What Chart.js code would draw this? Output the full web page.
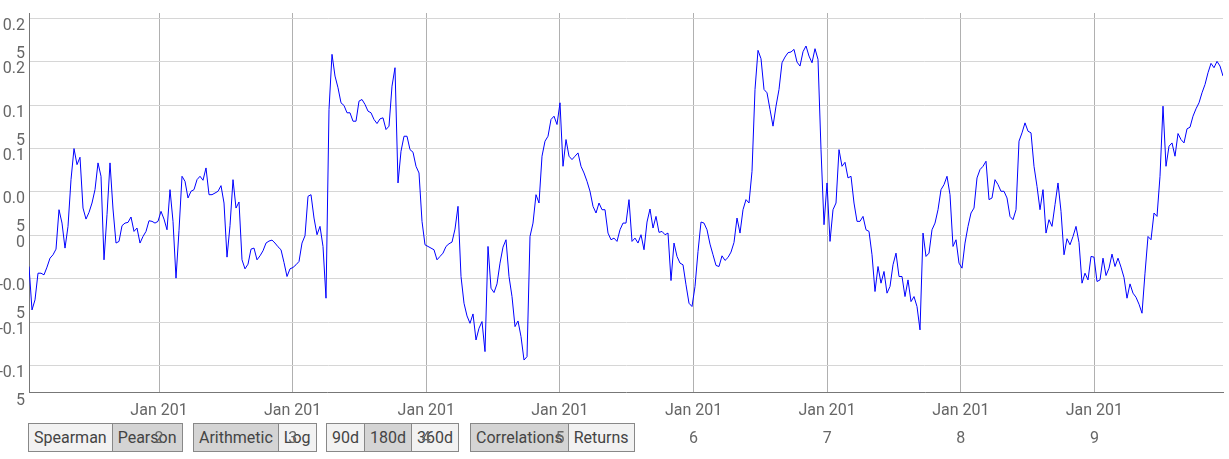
<!DOCTYPE html>
<html>
<head>
<meta charset="utf-8">
<script src="https://cdn.jsdelivr.net/npm/chart.js@4"></script>
<style>
  body { margin: 0; background: #fff; font-family: Roboto, sans-serif; }
  #wrap { position: relative; width: 1229px; height: 459px; overflow: hidden; }
  #chart { position: absolute; left: 0; top: 0; z-index: 2; pointer-events: none; }
  .grp { position: absolute; top: 423px; display: flex; border: 1px solid #888; height: 27px; }
  .grp span { display: block; padding: 0 5px; line-height: 27px; font-size: 16px; color: #444; background: #f2f2f2; }
  .grp span + span { border-left: 1px solid #888; }
  .grp span.on { background: #d4d4d4; }
</style>
</head>
<body>
<div id="wrap">
  <div class="grp" style="left:28px"><span>Spearman</span><span class="on">Pearson</span></div>
  <div class="grp" style="left:193px"><span class="on">Arithmetic</span><span>Log</span></div>
  <div class="grp" style="left:326px"><span>90d</span><span class="on">180d</span><span>360d</span></div>
  <div class="grp" style="left:470px"><span class="on">Correlations</span><span>Returns</span></div>
  <canvas id="chart" width="1229" height="459"></canvas>
</div>
<script>
// x axis: one sample roughly every 8.2 days, first one ~10 Jan 2011
const firstSample = 2011.027;
const sampleStep = 8.2 / 365.25;

const xTickYears = [2012, 2013, 2014, 2015, 2016, 2017, 2018, 2019];
const xTickLabels = ["Jan 2012", "Jan 2013", "Jan 2014", "Jan 2015", "Jan 2016", "Jan 2017", "Jan 2018", "Jan 2019"];

const yTickValues = [-0.15, -0.1, -0.05, 0, 0.05, 0.1, 0.15, 0.2, 0.25];
const yTickLabels = ["-0.15", "-0.1", "-0.05", "0", "0.05", "0.1", "0.15", "0.2", "0.25"];

// rolling 180d Pearson correlation
const pearson180d = [
  -0.0358, -0.0858, -0.0742, -0.0435, -0.0435, -0.0454, -0.0365, -0.0262, -0.0223, -0.0158,
  0.0296, 0.0142, -0.0146, 0.0104, 0.0642, 0.1000, 0.0815, 0.0900, 0.0315, 0.0188,
  0.0265, 0.0373, 0.0527, 0.0835, 0.0681, -0.0281, 0.0238, 0.0835, 0.0304, -0.0088,
  -0.0069, 0.0112, 0.0142, 0.0150, 0.0212, 0.0046, 0.0085, -0.0088, -0.0012, 0.0046,
  0.0169, 0.0162, 0.0142, 0.0162, 0.0277, 0.0188, 0.0065, 0.0527, 0.0162, -0.0492,
  0.0058, 0.0681, 0.0623, 0.0431, 0.0508, 0.0527, 0.0642, 0.0681, 0.0635, 0.0777,
  0.0469, 0.0469, 0.0488, 0.0508, 0.0573, 0.0373, -0.0250, 0.0112, 0.0642, 0.0315,
  0.0385, -0.0281, -0.0385, -0.0331, -0.0158, -0.0146, -0.0281, -0.0235, -0.0177, -0.0088,
  -0.0065, -0.0054, -0.0088, -0.0131, -0.0165, -0.0312, -0.0473, -0.0385, -0.0369, -0.0338,
  -0.0300, -0.0088, -0.0004, 0.0450, 0.0469, 0.0200, 0.0008, 0.0104, -0.0127, -0.0723,
  0.1450, 0.2085, 0.1835, 0.1700, 0.1527, 0.1496, 0.1412, 0.1412, 0.1315, 0.1315,
  0.1546, 0.1565, 0.1508, 0.1431, 0.1412, 0.1335, 0.1288, 0.1342, 0.1354, 0.1219,
  0.1258, 0.1719, 0.1931, 0.0604, 0.0969, 0.1142, 0.1142, 0.0988, 0.0958, 0.0796,
  0.0719, 0.0162, -0.0108, -0.0127, -0.0146, -0.0165, -0.0281, -0.0242, -0.0204, -0.0127,
  -0.0096, -0.0077, 0.0073, 0.0335, -0.0473, -0.0781, -0.0927, -0.1012, -0.0904, -0.1204,
  -0.1069, -0.0992, -0.1338, -0.0127, -0.0608, -0.0658, -0.0558, -0.0319, -0.0135, -0.0050,
  -0.0473, -0.0704, -0.1050, -0.0985, -0.1165, -0.1435, -0.1396, -0.0012, 0.0142, 0.0469,
  0.0373, 0.0912, 0.1085, 0.1142, 0.1335, 0.1373, 0.1277, 0.1527, 0.0796, 0.1104,
  0.0912, 0.0873, 0.0912, 0.0950, 0.0796, 0.0719, 0.0623, 0.0508, 0.0335, 0.0258,
  0.0373, 0.0296, 0.0296, 0.0027, -0.0050, -0.0031, -0.0069, 0.0065, 0.0142, 0.0142,
  0.0412, -0.0069, -0.0031, -0.0088, 0.0008, -0.0165, 0.0154, 0.0304, 0.0085, 0.0219,
  0.0035, 0.0046, 0.0008, 0.0027, -0.0520, -0.0088, -0.0242, -0.0319, -0.0338, -0.0569,
  -0.0781, -0.0819, -0.0588, -0.0185, 0.0154, 0.0142, 0.0065, -0.0100, -0.0223, -0.0346,
  -0.0358, -0.0235, -0.0288, -0.0254, -0.0192, -0.0081, 0.0200, 0.0027, 0.0296, 0.0412,
  0.0373, 0.0738, 0.1681, 0.2131, 0.2035, 0.1681, 0.1642, 0.1450, 0.1258, 0.1488,
  0.1681, 0.1988, 0.2054, 0.2104, 0.2112, 0.2142, 0.1996, 0.1950, 0.2115, 0.2181,
  0.2065, 0.1988, 0.2150, 0.2027, 0.0988, 0.0123, 0.0604, -0.0069, 0.0296, 0.0373,
  0.0988, 0.0796, 0.0842, 0.0662, 0.0681, 0.0373, 0.0162, 0.0162, 0.0219, 0.0065,
  0.0046, -0.0223, -0.0646, -0.0358, -0.0550, -0.0415, -0.0665, -0.0588, -0.0338, -0.0204,
  -0.0473, -0.0473, -0.0704, -0.0512, -0.0762, -0.0704, -0.0819, -0.1088, 0.0027, -0.0242,
  -0.0204, 0.0065, 0.0142, 0.0296, 0.0527, 0.0585, 0.0681, 0.0469, -0.0127, -0.0050,
  -0.0319, -0.0377, -0.0088, 0.0104, 0.0258, 0.0315, 0.0662, 0.0758, 0.0796, 0.0854,
  0.0412, 0.0431, 0.0642, 0.0585, 0.0508, 0.0508, 0.0431, 0.0219, 0.0181, 0.0296,
  0.1085, 0.1181, 0.1296, 0.1200, 0.1181, 0.0796, 0.0565, 0.0296, 0.0527, 0.0027,
  0.0181, 0.0104, 0.0354, 0.0604, 0.0277, -0.0223, -0.0038, -0.0108, -0.0012, 0.0104,
  -0.0081, -0.0550, -0.0435, -0.0512, -0.0242, -0.0250, -0.0531, -0.0512, -0.0262, -0.0462,
  -0.0377, -0.0215, -0.0358, -0.0262, -0.0365, -0.0485, -0.0723, -0.0558, -0.0665, -0.0712,
  -0.0792, -0.0896, -0.0435, -0.0012, -0.0050, 0.0258, 0.0219, 0.0681, 0.1488, 0.0796,
  0.1027, 0.1065, 0.0912, 0.1173, 0.1104, 0.1065, 0.1227, 0.1246, 0.1373, 0.1458,
  0.1527, 0.1642, 0.1738, 0.1873, 0.1981, 0.1931, 0.2004, 0.1950, 0.1835
];

// the original wraps its narrow labels onto two lines
function wrapY(label) {
    const dec = label.split(".")[1] || "";
    return dec.length > 1 ? [label.slice(0, -1), label.slice(-1)] : [label, ""];
}
function wrapX(label) {
    return [label.slice(0, 7), label.slice(7)];
}

const points = pearson180d.map((v, i) => ({ x: firstSample + i * sampleStep, y: v }));

Chart.defaults.font.family = "Roboto";
Chart.defaults.font.size = 16;
Chart.defaults.color = "#666";

new Chart(document.getElementById("chart").getContext("2d"), {
    type: "line",
    data: {
        datasets: [{
            data: points,
            borderColor: "#0000ff",
            borderWidth: 1,
            pointRadius: 0,
            tension: 0,
            fill: false
        }]
    },
    options: {
        responsive: false,
        animation: false,
        devicePixelRatio: 1,
        parsing: false,
        layout: { padding: { top: 13, right: 6, left: 0, bottom: 0 } },
        plugins: { legend: { display: false }, tooltip: { enabled: false } },
        scales: {
            x: {
                type: "linear",
                min: firstSample,
                max: firstSample + (pearson180d.length - 1) * sampleStep,
                afterBuildTicks: s => { s.ticks = xTickYears.map(v => ({ value: v })); },
                afterFit: s => { s.height = 67; s.paddingLeft = 0; s.paddingRight = 0; },
                grid: { color: "#b0b0b0", drawTicks: false },
                border: { color: "#777" },
                ticks: {
                    autoSkip: false,
                    maxRotation: 0,
                    padding: 5,
                    font: { lineHeight: "28px" },
                    callback: (v, i) => wrapX(xTickLabels[i])
                }
            },
            y: {
                min: -0.1803,
                max: 0.2561,
                afterBuildTicks: s => { s.ticks = yTickValues.map(v => ({ value: v })); },
                afterFit: s => { s.width = 29; s.paddingTop = 0; s.paddingBottom = 0; },
                grid: { color: "#d6d6d6", drawTicks: false },
                border: { color: "#777" },
                ticks: {
                    autoSkip: false,
                    padding: 4,
                    labelOffset: 21.5,
                    font: { lineHeight: "28px" },
                    callback: (v, i) => wrapY(yTickLabels[i])
                }
            }
        }
    }
});
</script>
</body>
</html>
